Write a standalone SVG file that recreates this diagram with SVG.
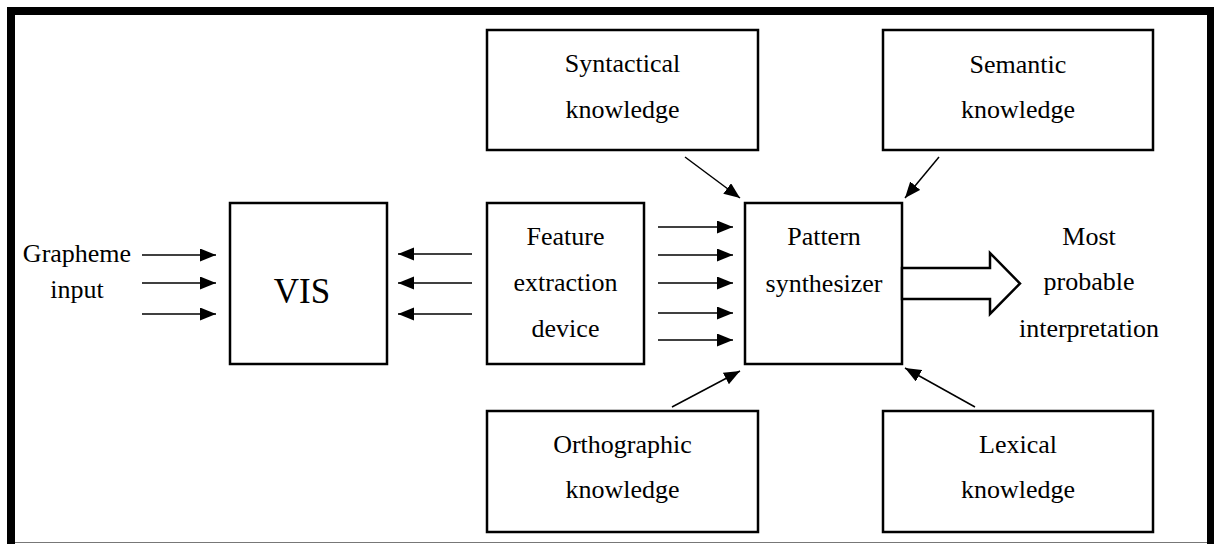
<svg xmlns="http://www.w3.org/2000/svg" width="1215" height="544" viewBox="0 0 1215 544">
<style>
.box{fill:#fff;stroke:#000;stroke-width:2.5}
.t{font-family:"Liberation Serif","Times New Roman",serif;font-size:26px;fill:#000;text-anchor:middle}
.big{font-size:35px}
.ln{stroke:#000;stroke-width:1.5;fill:none}
</style>
<defs>
<marker id="ah" markerUnits="userSpaceOnUse" markerWidth="17" markerHeight="14" refX="16" refY="6.5" orient="auto" viewBox="0 0 17 14">
<path d="M0,0 L16,6.5 L0,13 Z" fill="#000"/>
</marker>
</defs>
<rect width="1215" height="544" fill="#fff"/>
<g id="frame">
<rect x="7" y="7" width="1207" height="8" fill="#000"/>
<rect x="7" y="7" width="8" height="537" fill="#000"/>
<rect x="1207" y="7" width="7" height="537" fill="#000"/>
<line x1="15" y1="542.5" x2="1207" y2="542.5" stroke="#777" stroke-width="1"/>
</g>
<g id="grapheme">
<text class="t" x="77" y="262">Grapheme</text>
<text class="t" x="77" y="298">input</text>
</g>
<g id="vis">
<rect class="box" x="230" y="203" width="157" height="161"/>
<text class="t big" x="302" y="303">VIS</text>
</g>
<g id="feature">
<rect class="box" x="487" y="203" width="157" height="161"/>
<text class="t" x="565.5" y="245">Feature</text>
<text class="t" x="565.5" y="291">extraction</text>
<text class="t" x="565.5" y="337">device</text>
</g>
<g id="pattern">
<rect class="box" x="745" y="203" width="157" height="161"/>
<text class="t" x="824" y="245">Pattern</text>
<text class="t" x="824" y="292">synthesizer</text>
</g>
<g id="syntactical">
<rect class="box" x="487" y="30" width="271" height="120"/>
<text class="t" x="622.5" y="72">Syntactical</text>
<text class="t" x="622.5" y="118">knowledge</text>
</g>
<g id="semantic">
<rect class="box" x="883" y="30" width="270" height="120"/>
<text class="t" x="1018" y="73">Semantic</text>
<text class="t" x="1018" y="118">knowledge</text>
</g>
<g id="orthographic">
<rect class="box" x="487" y="411" width="271" height="121"/>
<text class="t" x="622.5" y="453">Orthographic</text>
<text class="t" x="622.5" y="498">knowledge</text>
</g>
<g id="lexical">
<rect class="box" x="883" y="411" width="270" height="121"/>
<text class="t" x="1018" y="453">Lexical</text>
<text class="t" x="1018" y="498">knowledge</text>
</g>
<g id="output">
<text class="t" x="1089" y="245">Most</text>
<text class="t" x="1089" y="290">probable</text>
<text class="t" x="1089" y="337">interpretation</text>
</g>
<g id="connectors">
<line class="ln" x1="142" y1="255" x2="216" y2="255" marker-end="url(#ah)"/>
<line class="ln" x1="142" y1="283" x2="216" y2="283" marker-end="url(#ah)"/>
<line class="ln" x1="142" y1="314" x2="216" y2="314" marker-end="url(#ah)"/>
<line class="ln" x1="472" y1="254" x2="398" y2="254" marker-end="url(#ah)"/>
<line class="ln" x1="472" y1="283" x2="398" y2="283" marker-end="url(#ah)"/>
<line class="ln" x1="472" y1="314" x2="398" y2="314" marker-end="url(#ah)"/>
<line class="ln" x1="658" y1="227" x2="733" y2="227" marker-end="url(#ah)"/>
<line class="ln" x1="658" y1="255" x2="733" y2="255" marker-end="url(#ah)"/>
<line class="ln" x1="658" y1="283" x2="733" y2="283" marker-end="url(#ah)"/>
<line class="ln" x1="658" y1="313" x2="733" y2="313" marker-end="url(#ah)"/>
<line class="ln" x1="658" y1="340" x2="733" y2="340" marker-end="url(#ah)"/>
<line class="ln" x1="685" y1="157" x2="740" y2="198" marker-end="url(#ah)"/>
<line class="ln" x1="939" y1="157" x2="905" y2="198" marker-end="url(#ah)"/>
<line class="ln" x1="672" y1="407" x2="740" y2="371" marker-end="url(#ah)"/>
<line class="ln" x1="975" y1="407" x2="905" y2="368" marker-end="url(#ah)"/>
<polygon points="902,268 990,268 990,253 1020,283.5 990,314 990,299 902,299" fill="#fff" stroke="#000" stroke-width="2.5"/>
</g>
</svg>
